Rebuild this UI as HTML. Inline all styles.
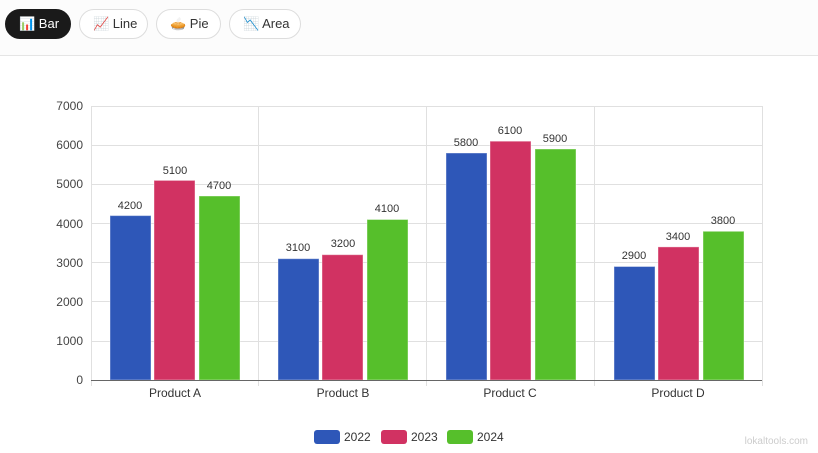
<!DOCTYPE html>
<html><head><meta charset="utf-8"><style>
body{margin:0;width:818px;height:453px;background:#fff;font-family:"Liberation Sans",sans-serif;overflow:hidden;position:relative}
.bar{position:absolute;top:0;left:0;width:818px;height:55px;background:#fcfcfc;border-bottom:1px solid #e5e5e5}
.btn{position:absolute;top:9px;height:28px;border:1px solid #ddd;border-radius:15px;background:#fff;font-size:13px;color:#333;line-height:28px;box-sizing:border-box;height:30px}
.btn.on{background:#1a1a1a;color:#fff;border-color:#1a1a1a}
.wm{position:absolute;right:10px;bottom:6px;font-size:10px;color:#ccc}
</style></head><body>
<div class="bar">
<div class="btn on" style="left:5px;width:66px;padding-left:13px">📊 Bar</div>
<div class="btn" style="left:79px;width:69px;padding-left:13px">📈 Line</div>
<div class="btn" style="left:156px;width:65px;padding-left:13px">🥧 Pie</div>
<div class="btn" style="left:229px;width:72px;padding-left:13px">📉 Area</div>
</div>
<svg width="818" height="453" style="position:absolute;top:0;left:0" font-family="Liberation Sans, sans-serif">
<g stroke="#e0e0e0" stroke-width="1">
<line x1="91" y1="106.5" x2="762" y2="106.5"/><line x1="91" y1="145.5" x2="762" y2="145.5"/><line x1="91" y1="184.5" x2="762" y2="184.5"/><line x1="91" y1="223.5" x2="762" y2="223.5"/><line x1="91" y1="262.5" x2="762" y2="262.5"/><line x1="91" y1="301.5" x2="762" y2="301.5"/><line x1="91" y1="341.5" x2="762" y2="341.5"/>
<line x1="91.5" y1="106" x2="91.5" y2="386"/><line x1="258.5" y1="106" x2="258.5" y2="386"/><line x1="426.5" y1="106" x2="426.5" y2="386"/><line x1="594.5" y1="106" x2="594.5" y2="386"/><line x1="762.5" y1="106" x2="762.5" y2="386"/>
</g>
<g font-size="12" fill="#444" text-anchor="end">
<text x="83" y="110">7000</text><text x="83" y="149">6000</text><text x="83" y="188">5000</text><text x="83" y="228">4000</text><text x="83" y="267">3000</text><text x="83" y="306">2000</text><text x="83" y="345">1000</text><text x="83" y="384">0</text>
</g>
<g font-size="12" fill="#333" text-anchor="middle">
<text x="175" y="397">Product A</text><text x="343" y="397">Product B</text><text x="510" y="397">Product C</text><text x="678" y="397">Product D</text>
</g>
<g stroke="#fff" stroke-opacity="0.4">
<rect x="110" y="215.6" width="41" height="164.4" fill="#2e57b8"/>
<rect x="154" y="180.4" width="41" height="199.6" fill="#d13262"/>
<rect x="199" y="196" width="41" height="184" fill="#56bf2b"/>
<rect x="278" y="258.7" width="41" height="121.3" fill="#2e57b8"/>
<rect x="322" y="254.7" width="41" height="125.3" fill="#d13262"/>
<rect x="367" y="219.5" width="41" height="160.5" fill="#56bf2b"/>
<rect x="446" y="153" width="41" height="227" fill="#2e57b8"/>
<rect x="490" y="141.2" width="41" height="238.8" fill="#d13262"/>
<rect x="535" y="149" width="41" height="231" fill="#56bf2b"/>
<rect x="614" y="266.5" width="41" height="113.5" fill="#2e57b8"/>
<rect x="658" y="246.9" width="41" height="133.1" fill="#d13262"/>
<rect x="703" y="231.3" width="41" height="148.7" fill="#56bf2b"/>
</g>
<line x1="91" y1="380.5" x2="762" y2="380.5" stroke="#666"/>
<g font-size="11" fill="#333" text-anchor="middle">
<text x="130" y="209">4200</text><text x="175" y="174">5100</text><text x="219" y="189">4700</text>
<text x="298" y="251">3100</text><text x="343" y="247">3200</text><text x="387" y="212">4100</text>
<text x="466" y="146">5800</text><text x="510" y="134">6100</text><text x="555" y="142">5900</text>
<text x="634" y="259">2900</text><text x="678" y="240">3400</text><text x="723" y="224">3800</text>
</g>
<rect x="314" y="430" width="26" height="14" rx="3" fill="#2e57b8"/><text x="344" y="441" font-size="12" fill="#333">2022</text>
<rect x="381" y="430" width="26" height="14" rx="3" fill="#d13262"/><text x="411" y="441" font-size="12" fill="#333">2023</text>
<rect x="447" y="430" width="26" height="14" rx="3" fill="#56bf2b"/><text x="477" y="441" font-size="12" fill="#333">2024</text>
</svg>
<div class="wm">lokaltools.com</div>
</body></html>
